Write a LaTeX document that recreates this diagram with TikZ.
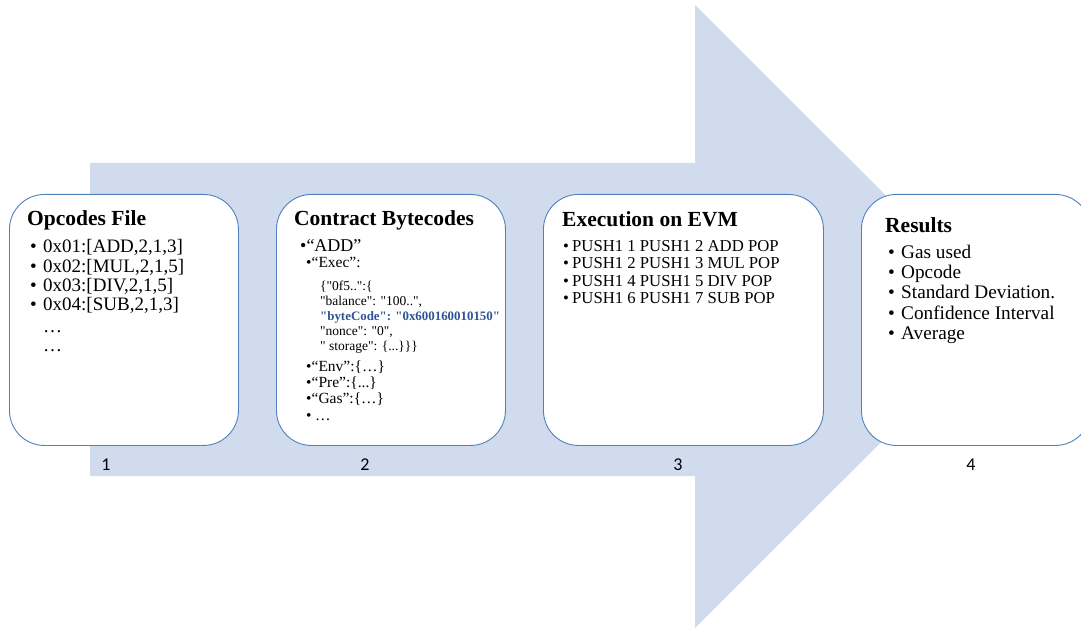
\documentclass[tikz,border=0pt]{standalone}
\usepackage{fontspec}
\setmainfont{Liberation Serif}[Ligatures=TeXOff]
\newfontfamily\numfont{Carlito}
\definecolor{arrowfill}{RGB}{208,220,238}
\definecolor{boxline}{RGB}{79,129,189}
\definecolor{codeblue}{RGB}{47,84,150}
\newcommand\bul[1]{\makebox[#1][l]{\textbullet}}
\newcommand\fs[1]{\fontsize{#1}{#1}\selectfont}

\begin{document}
\begin{tikzpicture}[x=1pt,y=-1pt,
  card/.style={draw=boxline, line width=0.9pt, fill=white, rounded corners=35pt,
    anchor=north west, minimum height=251, inner sep=0pt},
  ttl/.style={anchor=base west, inner sep=0pt, font=\fs{21.5}\bfseries},
  ln/.style={anchor=base west, inner sep=0pt},
  stepnum/.style={anchor=base, inner sep=0pt, font=\numfont\fs{18}}]
\useasboundingbox (0,0) rectangle (1081,628);
\clip (0,0) rectangle (1081,628);

% big process arrow in the background
\fill[arrowfill] (90,163) -- (695,163) -- (695,5) -- (1007,316.5) -- (695,628)
  -- (695,476) -- (90,476) -- cycle;

% the four stage cards
\node[card, minimum width=229] (box1) at (9,194) {};
\node[card, minimum width=229] (box2) at (276,194) {};
\node[card, minimum width=280] (box3) at (543,194) {};
\node[card, minimum width=229] (box4) at (861,194) {};

% stage 1
\node[ttl] (t1) at (27,226) {Opcodes File};
\begin{scope}[font=\fs{19}]
\node[ln] (o1) at (30,252.7) {\bul{13pt}0x01:[ADD,2,1,3]};
\node[ln] (o2) at (30,272.1) {\bul{13pt}0x02:[MUL,2,1,5]};
\node[ln] (o3) at (30,291.5) {\bul{13pt}0x03:[DIV,2,1,5]};
\node[ln] (o4) at (30,310.9) {\bul{13pt}0x04:[SUB,2,1,3]};
\node[ln] (o5) at (43,332.5) {…};
\node[ln] (o6) at (43,351.5) {…};
\end{scope}

% stage 2
\node[ttl] (t2) at (294,226) {Contract Bytecodes};
\node[ln, font=\fs{18}] (c1) at (300,251.7) {\textbullet“ADD”};
\node[ln, font=\fs{15.5}] (c2) at (306,267.3) {\textbullet“Exec”:};
\begin{scope}[font=\fs{13.5}]
\node[ln] (j1) at (320,290.5) {\{"0f5..":\{};
\node[ln] (j2) at (320,305.4) {"balance": "100..",};
\node[ln, text=codeblue, font=\fs{12.9}\bfseries] (j3) at (320,320.3) {"byteCode": "0x600160010150"};
\node[ln] (j4) at (320,335.2) {"nonce": "0",};
\node[ln] (j5) at (320,350.1) {" storage": \{...\}\}\}};
\end{scope}
\begin{scope}[font=\fs{15.5}]
\node[ln] (c3) at (306,371) {\textbullet“Env”:\{…\}};
\node[ln] (c4) at (306,387) {\textbullet“Pre”:\{...\}};
\node[ln] (c5) at (306,403) {\textbullet“Gas”:\{…\}};
\node[ln] (c6) at (306,420) {\bul{9pt}…};
\end{scope}

% stage 3
\node[ttl] (t3) at (562,227) {Execution on EVM};
\begin{scope}[font=\fs{16.7}]
\node[ln] (e1) at (563,251.5) {\bul{9pt}PUSH1 1 PUSH1 2 ADD POP};
\node[ln] (e2) at (563,268.8) {\bul{9pt}PUSH1 2 PUSH1 3 MUL POP};
\node[ln] (e3) at (563,286.1) {\bul{9pt}PUSH1 4 PUSH1 5 DIV POP};
\node[ln] (e4) at (563,303.4) {\bul{9pt}PUSH1 6 PUSH1 7 SUB POP};
\end{scope}

% stage 4
\node[ttl] (t4) at (885,233) {Results};
\begin{scope}[font=\fs{19.25}]
\node[ln] (r1) at (888,258.3) {\bul{13pt}Gas used};
\node[ln] (r2) at (888,278.6) {\bul{13pt}Opcode};
\node[ln] (r3) at (888,298.9) {\bul{13pt}Standard Deviation.};
\node[ln] (r4) at (888,319.2) {\bul{13pt}Confidence Interval};
\node[ln] (r5) at (888,339.5) {\bul{13pt}Average};
\end{scope}

% step numbers
\node[stepnum] (n1) at (106,470) {1};
\node[stepnum] (n2) at (365,470) {2};
\node[stepnum] (n3) at (678,470) {3};
\node[stepnum] (n4) at (971,470) {4};
\end{tikzpicture}
\end{document}
